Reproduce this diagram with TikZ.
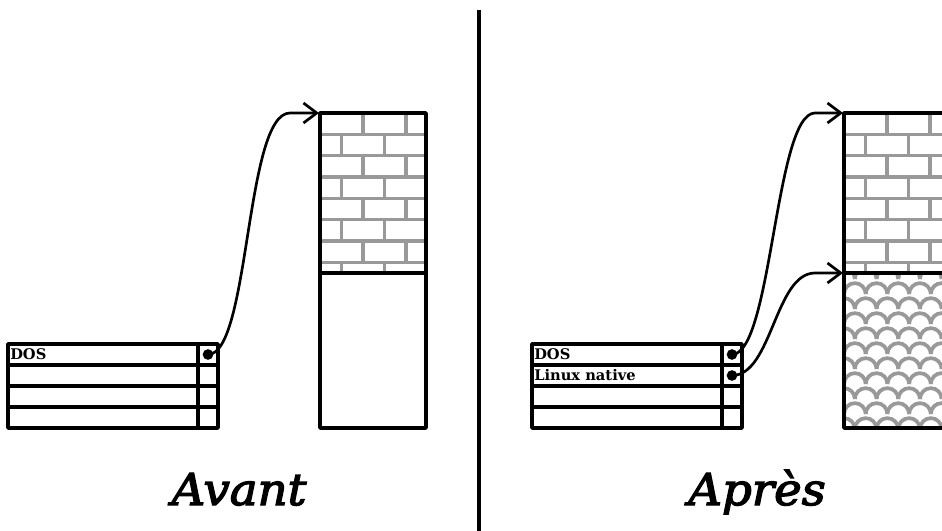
\documentclass[tikz,border=0pt]{standalone}
\usepackage{fontspec}
\setmainfont{DejaVu Serif}
\newfontfamily\capfont[FakeBold=3,FakeStretch=1.06]{DejaVu Serif}
\usetikzlibrary{arrows.meta}

\definecolor{fillgray}{RGB}{153,153,153}

\tikzset{
  wall/.style={line width=2.8pt, line join=round},
  fillline/.style={line width=2.4pt, draw=fillgray},
  pointer/.style={line width=2pt, -{Straight Barb[length=10pt,width=15pt]}},
  slotdot/.style={circle, fill, inner sep=0pt, minimum size=8pt},
  slotname/.style={anchor=west, inner sep=0.75pt, font=\bfseries\fontsize{11}{12}\selectfont},
  caption/.style={anchor=base, inner sep=0pt, font=\capfont\itshape\fontsize{33}{40}\selectfont}
}

% brick fill of a column, #1,#2 = top left corner
\newcommand{\brickfill}[2]{%
  \begin{scope}
    \clip (#1,#2) rectangle (#1+106,#2+160);
    \foreach \r [evaluate=\r as \s using {mod(\r,2)*21.5}] in {0,...,7} {
      \draw[fillline] (#1-5,#2+21.33*\r) -- (#1+120,#2+21.33*\r);
      \foreach \c in {0,...,2}
        \draw[fillline] (#1+43*\c+43-\s,#2+21.33*\r) -- (#1+43*\c+43-\s,#2+21.33*\r+21.33);
    }
  \end{scope}}

% scale fill of a column, #1,#2 = top left corner
\newcommand{\scalefill}[2]{%
  \begin{scope}
    \clip (#1,#2) rectangle (#1+106,#2+155);
    \foreach \r [evaluate=\r as \s using {mod(\r,2)*10.85}] in {0,...,11}
      \foreach \c in {-1,...,5}
        \draw[fillline, line width=2.8pt] (#1+21.7*\c+\s-10.85,#2+15*\r+6) arc[start angle=180, end angle=360, radius=10.85];
  \end{scope}}

\begin{document}
\begin{tikzpicture}[x=0.75pt,y=0.75pt,yscale=-1,xscale=1]
        \useasboundingbox (0,0) rectangle (942,531);

        %Shape: Brick fill (Avant)
        \brickfill{320}{113}
        %Shape: Brick fill (Apres)
        \brickfill{844}{113}
        %Shape: Scale fill (Apres)
        \scalefill{844}{273}

        %Shape: Column (Avant)
        \draw[wall] (320,113) rectangle (426,428) (320,273) -- (426,273);
        %Shape: Column (Apres)
        \draw[wall] (844,113) rectangle (960,428) (844,273) -- (960,273);

        %Shape: Partition table (Avant)
        \draw[wall] (8,344) rectangle (218,428) (198,344) -- (198,428);
        \foreach \y in {365,386,407} \draw[wall] (8,\y) -- (218,\y);
        %Shape: Partition table (Apres)
        \draw[wall] (532,344) rectangle (742,428) (722,344) -- (722,428);
        \foreach \y in {365,386,407} \draw[wall] (532,\y) -- (742,\y);

        %Straight Lines: separator
        \draw[line width=3.4pt] (479,10) -- (479,531);

        % Text Node
        \node[slotname] (dosnameA) at (9,354.5) {DOS};
        \node[slotname] (dosnameB) at (533,354.5) {DOS};
        \node[slotname] (linuxname) at (533,375.5) {Linux native};

        % Dots
        \node[slotdot] (dosA) at (208,354.5) {};
        \node[slotdot] (dosB) at (732,354.5) {};
        \node[slotdot] (linuxB) at (732,375.5) {};

        \coordinate (bendA) at (290,113);
        \coordinate (brickA) at (319,113);
        \coordinate (bendB) at (815,113);
        \coordinate (brickB) at (843,113);
        \coordinate (bendC) at (815,273);
        \coordinate (scaleB) at (843,273);

        %Curves: pointers
        \draw[pointer] (dosA.center) .. controls +(42,0) and +(-45,0) .. (bendA) -- (brickA);
        \draw[pointer] (dosB.center) .. controls +(40,0) and +(-40,0) .. (bendB) -- (brickB);
        \draw[pointer] (linuxB.center) .. controls +(40,0) and +(-40,0) .. (bendC) -- (scaleB);

        % Text Node
        \node[caption] (before) at (239,505) {Avant};
        \node[caption] (after) at (757,505) {Après};
\end{tikzpicture}
\end{document}
